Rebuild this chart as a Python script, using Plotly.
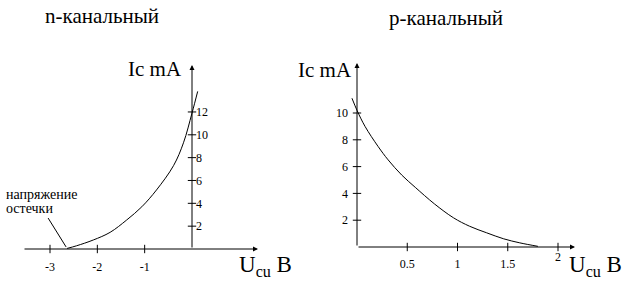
import plotly.graph_objects as go

# ---- data ----
n_u = [-2.64, -2.44, -2.085, -1.73, -1.38, -1.06, -0.75, -0.39, -0.18, 0.0, 0.12]
n_i = [0.05, 0.28, 0.79, 1.46, 2.54, 3.7, 5.17, 7.3, 9.3, 11.9, 13.8]
p_u = [-0.05, 0.0, 0.08, 0.21, 0.31, 0.445, 0.58, 0.77, 0.96, 1.12, 1.29, 1.46, 1.62, 1.80]
p_i = [11.1, 10.2, 9.0, 7.5, 6.5, 5.37, 4.45, 3.22, 2.18, 1.55, 1.06, 0.61, 0.31, 0.05]
n_xticks = [-3, -2, -1]
n_yticks = [2, 4, 6, 8, 10, 12]
p_xticks = [0.5, 1, 1.5]
p_xtick_extra = [2]
p_yticks = [2, 4, 6, 8, 10]
pointer_u = [-3.04, -2.66]
pointer_i = [2.71, 0.18]

W, H = 627, 285
FONT = "'Liberation Serif', 'Times New Roman', serif"


def px_x(p):
    return p / W


def px_y(p):
    return 1 - p / H


fig = go.Figure()

line = dict(color="black", width=1)
fig.add_trace(go.Scatter(x=n_u, y=n_i, mode="lines",
                         line=dict(color="black", width=1, shape="spline"),
                         xaxis="x", yaxis="y", hoverinfo="skip"))
fig.add_trace(go.Scatter(x=p_u, y=p_i, mode="lines",
                         line=dict(color="black", width=1, shape="spline"),
                         xaxis="x2", yaxis="y2", hoverinfo="skip"))
fig.add_trace(go.Scatter(x=pointer_u, y=pointer_i, mode="lines", line=line,
                         xaxis="x", yaxis="y", hoverinfo="skip"))
tick_marker_ns = dict(symbol="line-ns", size=6, line=dict(width=1, color="black"))
tick_marker_ew = dict(symbol="line-ew", size=6, line=dict(width=1, color="black"))
fig.add_trace(go.Scatter(x=n_xticks, y=[0] * len(n_xticks), mode="markers", marker=tick_marker_ns,
                         xaxis="x", yaxis="y", cliponaxis=False, hoverinfo="skip"))
fig.add_trace(go.Scatter(x=[0] * len(n_yticks), y=n_yticks, mode="markers", marker=tick_marker_ew,
                         xaxis="x", yaxis="y", cliponaxis=False, hoverinfo="skip"))
fig.add_trace(go.Scatter(x=p_xticks + p_xtick_extra, y=[0] * (len(p_xticks) + 1), mode="markers",
                         marker=tick_marker_ns, xaxis="x2", yaxis="y2", cliponaxis=False, hoverinfo="skip"))
fig.add_trace(go.Scatter(x=[0] * len(p_yticks), y=p_yticks, mode="markers", marker=tick_marker_ew,
                         xaxis="x2", yaxis="y2", cliponaxis=False, hoverinfo="skip"))

ax_common = dict(showline=False, showgrid=False, zeroline=False, ticks="",
                 tickfont=dict(family=FONT, size=12, color="black"), fixedrange=True)

fig.update_layout(
    width=W, height=H, margin=dict(l=0, r=0, t=0, b=0),
    paper_bgcolor="white", plot_bgcolor="white", showlegend=False,
    font=dict(family=FONT, color="black"),
    xaxis=dict(ax_common, domain=[px_x(20), px_x(258)], range=[(20 - 192) / 47.33, (258 - 192) / 47.33],
               anchor="y", tickvals=n_xticks, ticktext=[str(v) for v in n_xticks], ticklabelstandoff=9),
    yaxis=dict(ax_common, domain=[px_y(249), px_y(62)], range=[0, (249 - 62) / 11.42],
               anchor="free", position=px_x(192), side="right", tickvals=n_yticks,
               ticktext=[str(v) for v in n_yticks], ticklabelstandoff=3),
    xaxis2=dict(ax_common, domain=[px_x(345), px_x(580)], range=[(345 - 357) / 100.5, (580 - 357) / 100.5],
                anchor="y2", tickvals=p_xticks, ticktext=[str(v) for v in p_xticks], ticklabelstandoff=8),
    yaxis2=dict(ax_common, domain=[px_y(247), px_y(60)], range=[0, (247 - 60) / 13.4],
                anchor="free", position=px_x(357), side="left", tickvals=p_yticks,
                ticktext=[str(v) for v in p_yticks], ticklabelstandoff=9),
)

anns = []
for xr, yr, x0, y0, x1, y1 in [
    ("x", "y", (23 - 192) / 47.33, 0, (258 - 192) / 47.33, 0),
    ("x", "y", 0, 0, 0, (249 - 65) / 11.42),
    ("x2", "y2", 0, 0, (575 - 357) / 100.5, 0),
    ("x2", "y2", 0, 0, 0, (247 - 63) / 13.4),
]:
    anns.append(dict(xref=xr, yref=yr, axref=xr, ayref=yr, x=x1, y=y1, ax=x0, ay=y0, text="",
                     showarrow=True, arrowhead=2, arrowsize=1, arrowwidth=1, arrowcolor="black", standoff=0))

anns.append(dict(xref="x2", yref="y2", x=p_xtick_extra[0], y=0, text="2", showarrow=False,
                 yanchor="top", yshift=-1, font=dict(family=FONT, size=12, color="black")))


def txt(text, x, y, size, xanchor="left", yanchor="middle", family=FONT):
    anns.append(dict(xref="paper", yref="paper", x=px_x(x), y=px_y(y), text=text, showarrow=False,
                     xanchor=xanchor, yanchor=yanchor, font=dict(family=family, size=size, color="black")))


txt("n-канальный", 43, 16, 21)
txt("p-канальный", 387, 18, 21)
txt("Ic mA", 184, 69, 21, xanchor="right")
txt("Ic mA", 354, 70, 21, xanchor="right")
txt("U<sub>cu</sub> B", 237, 266, 23)
txt("U<sub>cu</sub> B", 567, 266, 23)
txt("напряжение", 4, 194, 14)
txt("остечки", 4, 209, 14)

fig.update_layout(annotations=anns)
fig.write_html("out.html")
